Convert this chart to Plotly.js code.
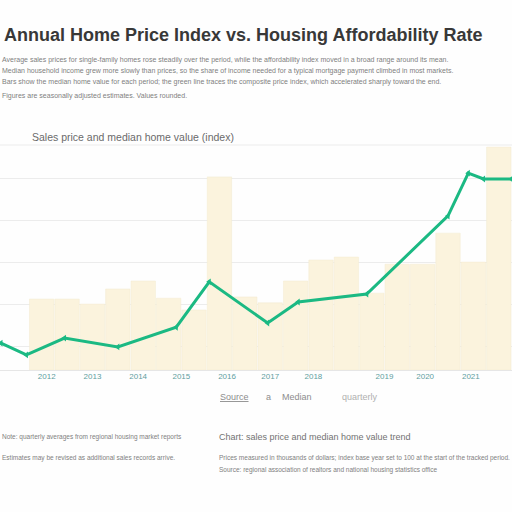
<!DOCTYPE html>
<html>
<head>
<meta charset="utf-8">
<script src="https://cdn.plot.ly/plotly-3.0.1.min.js"></script>
<style>html,body{margin:0;padding:0;background:#fefefe;}#chart{width:512px;height:512px;}</style>
</head>
<body>
<div id="chart"></div>
<script>
// ---- data ----
const barPeriods = [1,2,3,4,5,6,7,8,9,10,11,12,13,14,15,16,17,18,19];
const barValues  = [16.9,16.9,15.7,19.3,21.2,17.1,14.3,46.0,17.4,16.0,21.2,26.2,26.9,18.3,25.2,25.2,32.6,25.7,53.1];
const linePeriods = [-0.6,0.4,1.9,4.0,6.3,7.6,9.9,11.1,13.8,17.0,17.8,18.4,19.5];
const lineValues  = [6.4,3.6,7.6,5.5,10.2,21.0,11.2,16.2,18.1,36.7,46.9,45.5,45.5];
const tickPositions = [1.2,3.0,4.8,6.5,8.3,10.0,11.7,14.5,16.1,17.9,19.4];
const tickLabels = ["2012","2013","2014","2015","2016","2017","2018","2019","2020","2021","2022"];

const titleText = "Annual Home Price Index vs. Housing Affordability Rate";
const introLines = [
  "Average sales prices for single-family homes rose steadily over the period, while the affordability index moved in a broad range around its mean.",
  "Median household income grew more slowly than prices, so the share of income needed for a typical mortgage payment climbed in most markets.",
  "Bars show the median home value for each period; the green line traces the composite price index, which accelerated sharply toward the end.",
  "Figures are seasonally adjusted estimates. Values rounded."
];
const subtitleText = "Sales price and median home value (index)";
const legendTexts = ["Source", "a", "Median", "quarterly"];
const notesLeft = [
  "Note: quarterly averages from regional housing market reports",
  "Estimates may be revised as additional sales records arrive."
];
const notesRight = [
  "Chart: sales price and median home value trend",
  "Prices measured in thousands of dollars; index base year set to 100 at the start of the tracked period.",
  "Source: regional association of realtors and national housing statistics office"
];

// ---- layout helpers (pixel -> paper) ----
const T = 145, B = 370;
const py = p => (B - p) / (B - T);
const px = p => p / 512;

const ann = [];
ann.push({text: '<b>' + titleText + '</b>', x: px(2), y: py(35), xref:'paper', yref:'paper', xanchor:'left', yanchor:'middle', showarrow:false,
  font:{family:'Liberation Sans, Arial, sans-serif', size:18, color:'#383838'}});
const introY = [60, 71, 82, 96];
introLines.forEach((t,i) => ann.push({text:t, x:px(0), y:py(introY[i]), xref:'paper', yref:'paper', xanchor:'left', yanchor:'middle', showarrow:false,
  font:{family:'Liberation Sans, Arial, sans-serif', size:7, color:'#7e7e7e'}}));
ann.push({text: subtitleText, x:px(30), y:py(137), xref:'paper', yref:'paper', xanchor:'left', yanchor:'middle', showarrow:false,
  font:{family:'Liberation Sans, Arial, sans-serif', size:10.5, color:'#6a6a6a'}});
const legX = [218, 264, 280, 340];
legendTexts.forEach((t,i) => ann.push({text: i===0 ? '<u>'+t+'</u>' : t, x:px(legX[i]), y:py(397), xref:'paper', yref:'paper', xanchor:'left', yanchor:'middle', showarrow:false,
  font:{family:'Liberation Sans, Arial, sans-serif', size:9, color: i===3 ? '#b0b0b0' : '#8d8d8d'}}));
const leftY = [437, 458];
notesLeft.forEach((t,i) => ann.push({text:t, x:px(0), y:py(leftY[i]), xref:'paper', yref:'paper', xanchor:'left', yanchor:'middle', showarrow:false,
  font:{family:'Liberation Sans, Arial, sans-serif', size:6.5, color:'#808080'}}));
const rightY = [437, 458, 470];
notesRight.forEach((t,i) => ann.push({text:t, x:px(217), y:py(rightY[i]), xref:'paper', yref:'paper', xanchor:'left', yanchor:'middle', showarrow:false,
  font:{family:'Liberation Sans, Arial, sans-serif', size: i===0 ? 9 : 6.5, color: i===0 ? '#727272' : '#808080'}}));

const data = [
  {type:'bar', x: barPeriods, y: barValues, marker:{color:'#fbf3dd', line:{color:'#f3ead0', width:0.5}}, hoverinfo:'skip'},
  {type:'scatter', mode:'lines+markers', x: linePeriods, y: lineValues, line:{color:'#1bb983', width:3},
   marker:{color:'#1bb983', size:6, symbol:'triangle-left'}, cliponaxis:true}
];

const layout = {
  width:512, height:512,
  margin:{l:0, r:0, t:T, b:512-B, pad:0},
  paper_bgcolor:'#fefefe', plot_bgcolor:'#fefefe',
  showlegend:false, bargap:0.04,
  xaxis:{range:[-0.64,19.52], showgrid:false, zeroline:false, showline:false,
    tickmode:'array', tickvals: tickPositions, ticktext: tickLabels, ticks:'', ticklabelstandoff:0,
    tickfont:{family:'Liberation Sans, Arial, sans-serif', size:8, color:'#5f9fa1'}},
  yaxis:{range:[0,53.6], tick0:5.7, dtick:10, showticklabels:false, gridcolor:'#ececec', gridwidth:1,
    zeroline:true, zerolinecolor:'#e6e6e6', showline:false},
  shapes:[{type:'line', xref:'paper', yref:'paper', x0:0, x1:1, y0:1, y1:1, line:{color:'#ececec', width:1}}],
  annotations: ann
};
Plotly.newPlot('chart', data, layout, {displayModeBar:false, staticPlot:true});
</script>
</body>
</html>
